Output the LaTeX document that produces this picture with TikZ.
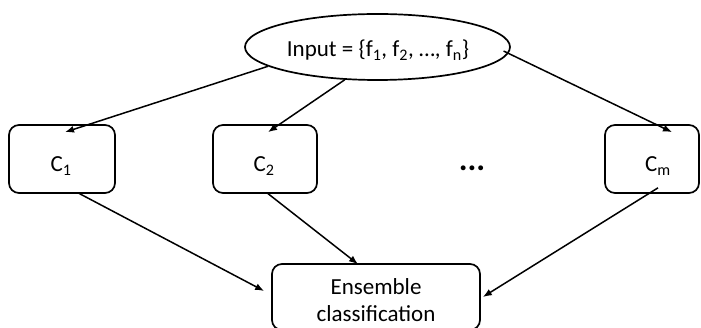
\documentclass[tikz,border=0pt]{standalone}
\usepackage{fontspec}
\setmainfont{Carlito}
\usetikzlibrary{shapes.geometric,arrows.meta}
\begin{document}
\begin{tikzpicture}[x=1pt,y=-1pt,
  every node/.style={font=\fontsize{23}{27}\selectfont, inner sep=0pt},
  classbox/.style={draw, line width=1.7pt, rounded corners=10pt,
    minimum width=106pt, minimum height=68pt},
  link/.style={line width=1.5pt, -{Latex[length=9pt,width=7pt]}}]
  \useasboundingbox (0,0) rectangle (701,328);

  % input feature set
  \node[draw, ellipse, line width=1.7pt, minimum width=265pt, minimum height=66pt]
    (in) at (377.5,47) {};
  \node (intext) at (378,50) {Input = \{f\textsubscript{1}, f\textsubscript{2}, …, f\textsubscript{n}\}};

  % base classifiers
  \node[classbox] (c1) at (62,159) {};
  \node (c1t) at (61,166) {C\textsubscript{1}};
  \node[classbox, minimum width=104pt] (c2) at (265,159) {};
  \node (c2t) at (264,166) {C\textsubscript{2}};
  \node[classbox, minimum width=94pt] (cm) at (652,159) {};
  \node (cmt) at (658,166) {C\textsubscript{m}};
  \node[font=\fontsize{33}{33}\selectfont\bfseries] (dots) at (472,168) {...};

  % combined decision
  \node[classbox, minimum width=208pt, minimum height=66pt] (ens) at (376,297) {};
  \node[align=center] (enst) at (376,300) {Ensemble\\classification};

  % connectors
  \draw[link] (in.190) -- ([xshift=3pt,yshift=-8pt]c1.north);
  \draw[link] (in.225) -- ([xshift=3pt,yshift=-8pt]c2.north);
  \draw[link] ([yshift=7pt]in.-5) -- ([xshift=20pt,yshift=-8pt]cm.north);
  \draw[link] ([xshift=16pt,yshift=1pt]c1.south) -- ([xshift=-7pt,yshift=6pt]ens.west);
  \draw[link] ([xshift=2pt,yshift=1pt]c2.south) -- ([xshift=-18pt,yshift=-1pt]ens.north);
  \draw[link] ([xshift=6pt,yshift=6pt]cm.south) -- ([xshift=2pt]ens.east);
\end{tikzpicture}
\end{document}
